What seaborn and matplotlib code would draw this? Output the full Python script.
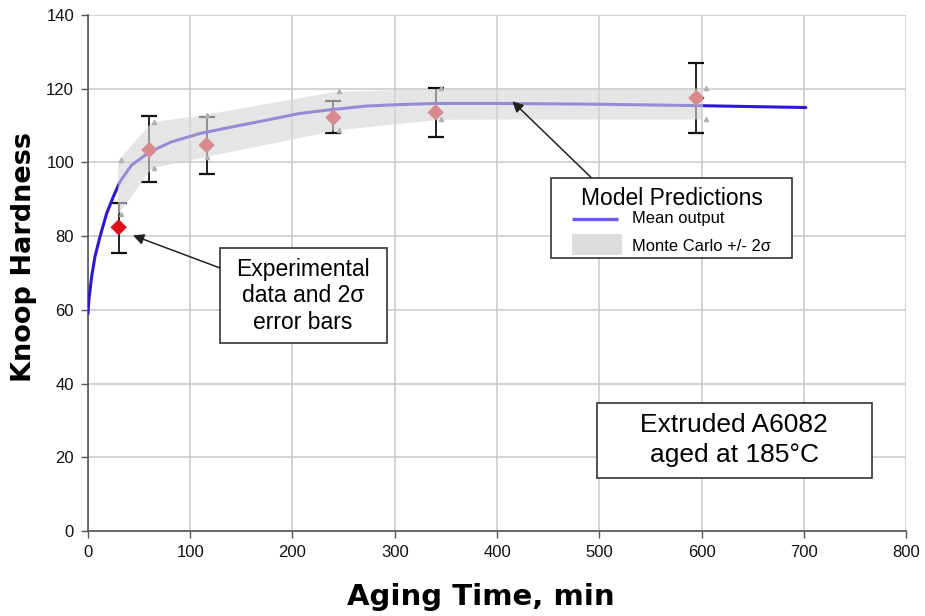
import matplotlib
matplotlib.use('Agg')
import matplotlib.pyplot as plt
import seaborn as sns
import numpy as np
from matplotlib.patches import Rectangle


# ------------------------------------------------ Data ------------------------------------------------

# Model mean output (aging time in min, Knoop hardness)
model_time = [0, 1, 3.6, 6.8, 11.7, 18.3, 24.8, 31.3, 42.7, 60.6, 81.8, 110, 142, 175, 207, 240, 272,
              305, 338, 403, 500, 600, 702]
model_hard = [59, 63, 69, 74.4, 79.8, 86.2, 90.7, 94.8, 99.3, 102.9, 105.6, 107.9, 109.7, 111.5, 113.3,
              114.4, 115.3, 115.7, 116, 116, 115.8, 115.4, 114.9]

# Monte Carlo +/- 2 sigma band
band_time = [29, 62, 113, 242, 342, 420, 500, 601]
band_upper = [100.6, 111, 113, 119.3, 120.1, 120.2, 120.2, 120.2]
band_lower = [86, 98.5, 101.5, 108.8, 111.7, 111.8, 111.8, 111.8]
band_samples = [0, 1, 2, 3, 4, 7]

# Experimental data with 2 sigma error bars
exp_time = [30, 60, 116, 240, 340, 595]
exp_hard = [82.4, 103.4, 104.7, 112.2, 113.6, 117.5]
exp_err_low = [75.5, 94.8, 97, 108, 107, 108]
exp_err_high = [88.9, 112.6, 112.3, 116.7, 120.1, 127]

x_ticks = [0, 100, 200, 300, 400, 500, 600, 700, 800]
y_ticks = [0, 20, 40, 60, 80, 100, 120, 140]


# ------------------------------------------------ Plot ------------------------------------------------

sns.set_theme(style='white')
plt.rcParams['font.family'] = ['Liberation Sans', 'DejaVu Sans']
plt.rcParams['text.color'] = 'black'
plt.rcParams['axes.labelcolor'] = 'black'
plt.rcParams['xtick.color'] = '#111111'
plt.rcParams['ytick.color'] = '#111111'

fig = plt.figure(figsize=(9.25, 6.16), dpi=100)
ax = fig.add_axes([0.0951, 0.138, 0.8844, 0.8376])

# Mean output line (drawn under the band so it looks lighter inside it)
sns.lineplot(x=model_time, y=model_hard, ax=ax, color='#2b18d6', linewidth=2.2, zorder=3)
ax.lines[-1].set_solid_joinstyle('round')

# Experimental points and error bars
yerr = np.array([np.array(exp_hard) - np.array(exp_err_low), np.array(exp_err_high) - np.array(exp_hard)])
ax.errorbar(exp_time, exp_hard, yerr=yerr, fmt='none', ecolor='#111111', elinewidth=1.3,
            capsize=6, capthick=1.6, zorder=2)
sns.scatterplot(x=exp_time, y=exp_hard, ax=ax, marker='D', s=70, color='#dd1018',
                edgecolor='none', zorder=4)

# Monte Carlo band on top, semi transparent
ax.fill_between(band_time, band_lower, band_upper, color='#d6d6d6', alpha=0.62, linewidth=0, zorder=5)
tri_t = [band_time[i] + 3 for i in band_samples]
ax.plot(tri_t, [band_upper[i] for i in band_samples], linestyle='none', marker='^', ms=3,
        color='#b0b0b0', zorder=6)
ax.plot(tri_t, [band_lower[i] for i in band_samples], linestyle='none', marker='^', ms=3,
        color='#b0b0b0', zorder=6)

# Axes
ax.set_xlim(0, 800)
ax.set_ylim(0, 140)
ax.set_xticks(x_ticks)
ax.set_yticks(y_ticks)
ax.grid(True, color='#c8c8c8', linewidth=1.1)
ax.set_axisbelow(True)
for side in ['top', 'right']:
	ax.spines[side].set_visible(False)
for side in ['left', 'bottom']:
	ax.spines[side].set_color('#555555')
	ax.spines[side].set_linewidth(1.2)
ax.tick_params(axis='both', which='both', direction='out', length=5, width=1, color='#555555',
               labelsize=12, left=True, bottom=True, pad=5)

ax.set_xlabel('Aging Time, min', fontsize=21, fontweight='bold', family='DejaVu Sans')
ax.xaxis.set_label_coords(0.480, -0.101)
ax.set_ylabel('Knoop Hardness', fontsize=19.5, fontweight='bold', family='DejaVu Sans')
ax.yaxis.set_label_coords(-0.062, 0.531)

# Model predictions key, drawn by hand to match the original box
ax.add_patch(Rectangle((0.5657, 0.5285), 0.295, 0.1562, transform=ax.transAxes, fc='white',
                       ec='#333333', lw=1.2, zorder=8))
ax.text(0.7133, 0.6318, 'Model Predictions', transform=ax.transAxes, ha='center', va='baseline',
        fontsize=16.5, zorder=9)
ax.plot([0.592, 0.6476], [0.604, 0.604], transform=ax.transAxes, color='#6a5ae6', lw=2.4,
        solid_capstyle='butt', zorder=9)
ax.text(0.6647, 0.6047, 'Mean output', transform=ax.transAxes, ha='left', va='center',
        fontsize=11.9, zorder=9)
ax.add_patch(Rectangle((0.592, 0.5349), 0.0604, 0.0401, transform=ax.transAxes, fc='#dcdcdc',
                       ec='none', zorder=9))
ax.text(0.6647, 0.551, 'Monte Carlo +/- 2\u03c3', transform=ax.transAxes, ha='left', va='center',
        fontsize=11.9, zorder=9)

# Arrows and text boxes
arrow = dict(arrowstyle='-|>', color='#222222', lw=1.1, mutation_scale=16, shrinkA=0, shrinkB=0)
ax.annotate('', xy=(415, 116.6), xytext=(0.615, 0.6852), textcoords='axes fraction',
            arrowprops=arrow, zorder=9)

ax.add_patch(Rectangle((0.161, 0.364), 0.2045, 0.184, transform=ax.transAxes, fc='white',
                       ec='#333333', lw=1.2, zorder=8))
ax.text(0.263, 0.456, 'Experimental\ndata and 2\u03c3\nerror bars', transform=ax.transAxes,
        ha='center', va='center', fontsize=16.5, linespacing=1.2, zorder=9)
ax.annotate('', xy=(44, 80.2), xytext=(0.161, 0.51), textcoords='axes fraction',
            arrowprops=arrow, zorder=9)

ax.add_patch(Rectangle((0.622, 0.103), 0.336, 0.145, transform=ax.transAxes, fc='white',
                       ec='#333333', lw=1.2, zorder=8))
ax.text(0.790, 0.176, 'Extruded A6082\naged at 185\u00b0C', transform=ax.transAxes,
        ha='center', va='center', fontsize=19, linespacing=1.3, zorder=9)

plt.savefig('out.png', dpi=100)
